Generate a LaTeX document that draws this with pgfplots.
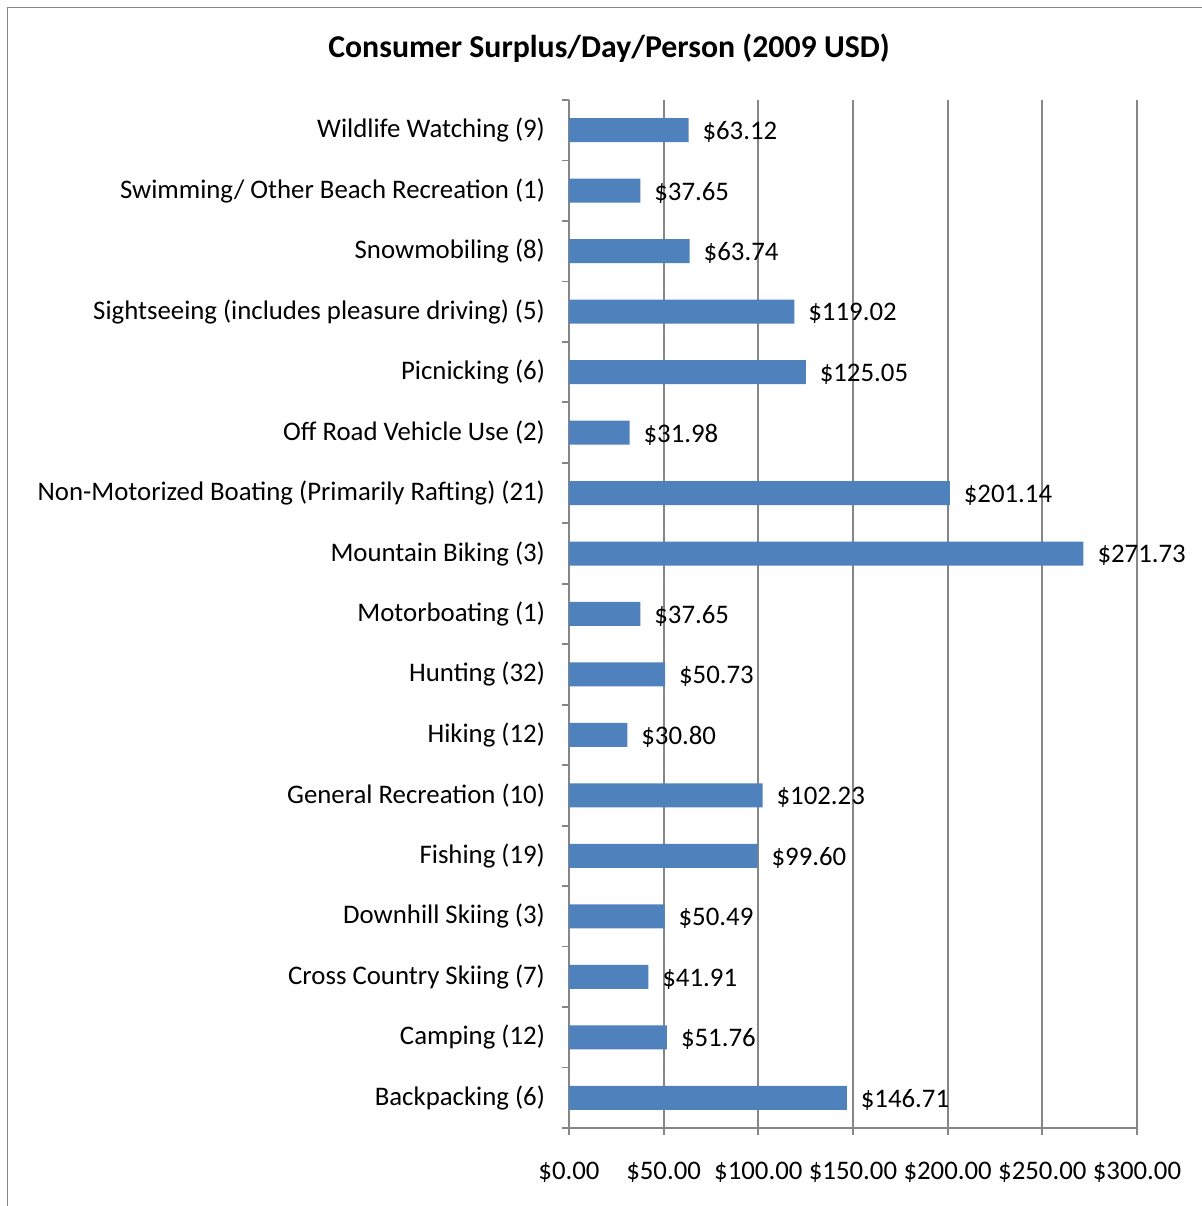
\documentclass[border=0pt]{standalone}
\usepackage{pgfplots}
\pgfplotsset{compat=1.18}
\usepackage{fontspec}
\setmainfont{Carlito}
\definecolor{barblue}{HTML}{4F81BD}
\definecolor{gridgray}{HTML}{868686}
\begin{document}
\begin{tikzpicture}[x=1pt,y=1pt]
\path[use as bounding box] (0,0) rectangle (601,603);
\draw[gridgray, line width=0.8pt] (3.75,0) -- (3.75,599.25) -- (601,599.25);
\node[font=\fontsize{15.9}{19}\selectfont\bfseries] at (304.5,579) {Consumer Surplus/Day/Person (2009 USD)};
\begin{axis}[
 at={(284.5pt,39pt)}, anchor=south west, scale only axis, width=284pt, height=514pt,
 xbar, bar width=12pt, xmin=0, xmax=300, ymin=-0.5, ymax=16.5,
 xtick={0,50,...,300},
 xticklabels={\$0.00,\$50.00,\$100.00,\$150.00,\$200.00,\$250.00,\$300.00},
 ytick={0,...,16},
 yticklabels={Backpacking (6),Camping (12),Cross Country Skiing (7),Downhill Skiing (3),Fishing (19),General Recreation (10),Hiking (12),Hunting (32),Motorboating (1),Mountain Biking (3),Non-Motorized Boating (Primarily Rafting) (21),Off Road Vehicle Use (2),Picnicking (6),Sightseeing (includes pleasure driving) (5),Snowmobiling (8),Swimming/ Other Beach Recreation (1),Wildlife Watching (9)},
 minor ytick={-0.5,0.5,...,16.5},
 tick align=outside, major tick length=3.5pt, minor tick length=3.5pt,
 every major y tick/.append style={draw=none},
 every minor y tick/.append style={draw=gridgray, line width=0.9pt},
 xtick style={gridgray, line width=0.9pt},
 xmajorgrids, grid style={gridgray, line width=0.9pt},
 axis lines*=left, axis line style={-, gridgray, line width=0.9pt},
 tick label style={font=\fontsize{13.4}{16}\selectfont, black},
 yticklabel style={xshift=-5pt},
 xticklabel style={yshift=-10pt},
 /pgf/number format/assume math mode=true,
 point meta=x,
 nodes near coords={\$\pgfmathprintnumber[fixed,fixed zerofill,precision=2]{\pgfplotspointmeta}},
 nodes near coords style={font=\fontsize{13.4}{16}\selectfont, black, anchor=west, xshift=3.5pt, yshift=-1pt},
]
\addplot[fill=barblue, draw=none] coordinates {
(146.71,0) (51.76,1) (41.91,2) (50.49,3) (99.60,4) (102.23,5) (30.80,6) (50.73,7) (37.65,8) (271.73,9) (201.14,10) (31.98,11) (125.05,12) (119.02,13) (63.74,14) (37.65,15) (63.12,16)
};
\end{axis}
\end{tikzpicture}
\end{document}
